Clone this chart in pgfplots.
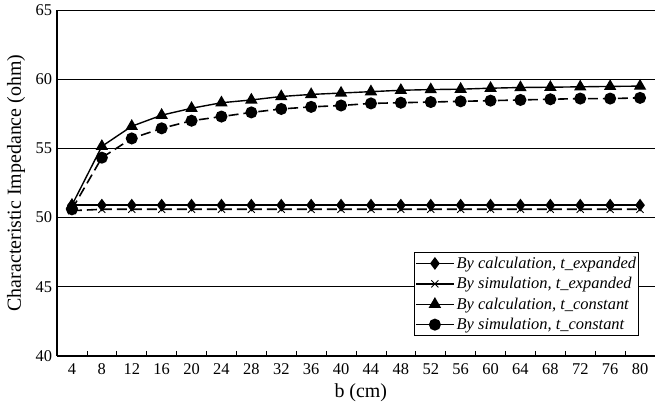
\documentclass[border=0pt]{standalone}
\usepackage{pgfplots}
\pgfplotsset{compat=1.18}
\usepackage{fontspec}
\setmainfont{Liberation Serif}
\begin{document}
\begin{tikzpicture}
\begin{axis}[
  scale only axis,
  anchor=south west, at={(0,0)},
  width=598bp, height=346bp,
  xmin=0.5, xmax=20.5, ymin=40, ymax=65,
  axis x line*=bottom, axis y line*=left,
  axis line style={-, line width=1.3bp},
  xtick={1,...,20},
  xticklabels={4,8,12,16,20,24,28,32,36,40,44,48,52,56,60,64,68,72,76,80},
  minor xtick={1.5,2.5,...,19.5},
  major tick length=0pt,
  minor tick length=5bp,
  tick align=inside,
  tick style={black, line width=0.8bp},
  ytick={40,45,...,65},
  ymajorgrids,
  major grid style={black, line width=0.8bp},
  tick label style={font=\fontsize{16.5}{18}\selectfont},
  xticklabel style={anchor=north, yshift=-4bp},
  yticklabel style={anchor=east, xshift=-1.5bp},
  /pgf/number format/assume math mode=true,
  xlabel={b (cm)},
  ylabel={Characteristic Impedance (ohm)},
  xlabel style={at={(axis description cs:0.508,-0.107)}, anchor=center, font=\fontsize{20}{22}\selectfont},
  ylabel style={at={(axis description cs:-0.0686,0.5)}, anchor=center, font=\fontsize{20}{22}\selectfont},
  legend style={at={(axis description cs:0.9732,0.0578)}, anchor=south east, draw=black, line width=0.8bp, fill=white,
    font=\fontsize{16.5}{18}\selectfont\itshape, nodes={inner ysep=4bp, inner xsep=2bp}, inner sep=0.5bp, row sep=-0.5bp},
  legend cell align=left,
  legend image code/.code={\draw[#1,solid] (0bp,0bp) -- (38bp,0bp); \draw[#1,solid] plot coordinates {(19bp,0bp)};},
]
\addplot[black, line width=1.4bp, mark=diamond*, mark size=5.3bp] coordinates {
(1,50.9)(2,50.9)(3,50.9)(4,50.9)(5,50.9)(6,50.9)(7,50.9)(8,50.9)(9,50.9)(10,50.9)
(11,50.9)(12,50.9)(13,50.9)(14,50.9)(15,50.9)(16,50.9)(17,50.9)(18,50.9)(19,50.9)(20,50.9)};
\addlegendentry{By calculation, t\_expanded}
\addplot[black, line width=1.6bp, dash pattern=on 10bp off 5bp, mark=x, mark size=5bp, mark options={solid, line width=0.9bp}] coordinates {
(1,50.5)(2,50.6)(3,50.6)(4,50.6)(5,50.6)(6,50.6)(7,50.6)(8,50.6)(9,50.6)(10,50.6)
(11,50.6)(12,50.6)(13,50.6)(14,50.6)(15,50.6)(16,50.6)(17,50.6)(18,50.6)(19,50.6)(20,50.6)};
\addlegendentry{By simulation, t\_expanded}
\addplot[black, line width=1.4bp, mark=triangle*, mark size=5.8bp] coordinates {
(1,50.9)(2,55.15)(3,56.6)(4,57.4)(5,57.9)(6,58.3)(7,58.5)(8,58.75)(9,58.9)(10,59.0)
(11,59.1)(12,59.2)(13,59.25)(14,59.28)(15,59.35)(16,59.4)(17,59.42)(18,59.45)(19,59.48)(20,59.5)};
\addlegendentry{By calculation, t\_constant}
\addplot[black, line width=1.6bp, dash pattern=on 10bp off 5bp, mark=*, mark size=5.2bp, mark options={solid}] coordinates {
(1,50.6)(2,54.33)(3,55.72)(4,56.45)(5,57.0)(6,57.3)(7,57.6)(8,57.85)(9,58.0)(10,58.1)
(11,58.25)(12,58.3)(13,58.35)(14,58.4)(15,58.45)(16,58.5)(17,58.55)(18,58.6)(19,58.6)(20,58.65)};
\addlegendentry{By simulation, t\_constant}
\end{axis}
\pgfresetboundingbox
\useasboundingbox (-57bp,-48bp) rectangle (603bp,356bp);
\end{tikzpicture}
\end{document}
